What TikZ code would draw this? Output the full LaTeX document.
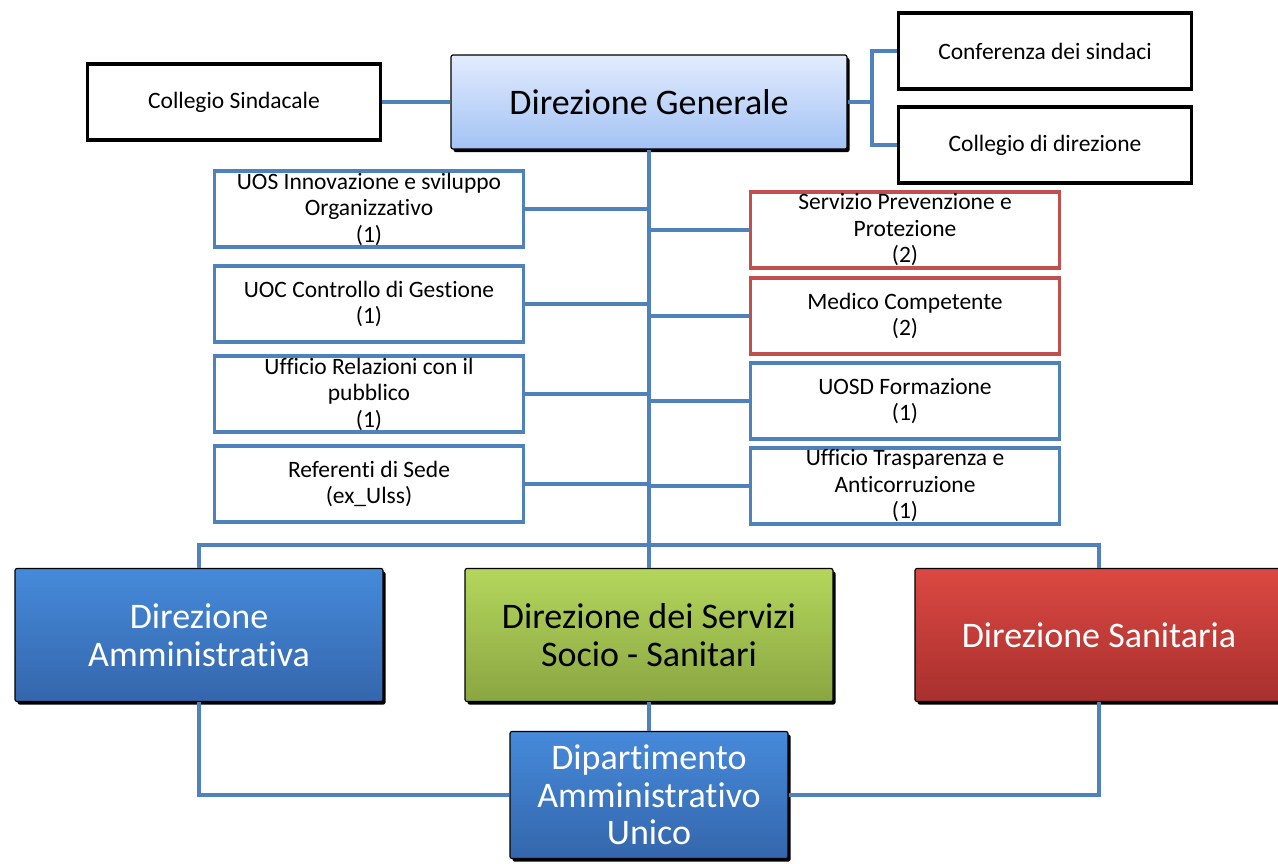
\documentclass[tikz,border=0pt]{standalone}
\usepackage{fontspec}
\setmainfont{Carlito}[Ligatures=NoCommon]
\usetikzlibrary{shadows}

\definecolor{linkblue}{RGB}{79,129,189}
\definecolor{edgered}{RGB}{192,80,77}
\definecolor{genTop}{RGB}{226,236,253}
\definecolor{genBot}{RGB}{163,194,245}
\definecolor{admTop}{RGB}{70,138,218}
\definecolor{admBot}{RGB}{52,102,172}
\definecolor{socTop}{RGB}{180,214,92}
\definecolor{socBot}{RGB}{138,166,66}
\definecolor{sanTop}{RGB}{220,72,66}
\definecolor{sanBot}{RGB}{168,48,46}

\begin{document}
\begin{tikzpicture}[x=1pt, y=-1pt,
    link/.style={draw=linkblue, line width=4pt},
    smalltext/.style={align=center, inner sep=0pt, font=\fontsize{23.5}{26.5}\selectfont},
    blackbox/.style={smalltext, draw=black, line width=3.5pt, minimum width=293pt, minimum height=76pt},
    bluebox/.style={smalltext, draw=linkblue, line width=3.5pt, minimum width=309pt, minimum height=76pt},
    redbox/.style={bluebox, draw=edgered},
    bigbox/.style={align=center, inner sep=0pt, draw=black, line width=1.2pt, rounded corners=2pt,
        general shadow={fill=black, shadow xshift=2.5pt, shadow yshift=-3pt},
        font=\fontsize{36}{37.5}\selectfont},
  ]
    \useasboundingbox (0,0) rectangle (1278,863);

    \node[bigbox, top color=genTop, bottom color=genBot, minimum width=396pt, minimum height=94pt] (dg) at (649,102) {Direzione Generale};

    \node[blackbox] (cs) at (234,102) {Collegio Sindacale};
    \node[blackbox] (cds) at (1045,51) {Conferenza dei sindaci};
    \node[blackbox] (cdd) at (1045,145) {Collegio di direzione};

    \node[bluebox] (uos) at (369,209) {UOS Innovazione e sviluppo\\Organizzativo\\(1)};
    \node[bluebox] (uoc) at (369,304) {UOC Controllo di Gestione\\(1)};
    \node[bluebox] (urp) at (369,394) {Ufficio Relazioni con il\\pubblico\\(1)};
    \node[bluebox] (ref) at (369,484) {Referenti di Sede\\(ex\_Ulss)};

    \node[redbox] (spp) at (905,230) {Servizio Prevenzione e\\Protezione\\(2)};
    \node[redbox] (med) at (905,316) {Medico Competente\\(2)};
    \node[bluebox] (form) at (905,401) {UOSD Formazione\\(1)};
    \node[bluebox] (trasp) at (905,486) {Ufficio Trasparenza e\\Anticorruzione\\(1)};

    \node[bigbox, text=white, top color=admTop, bottom color=admBot, minimum width=368pt, minimum height=133pt] (da) at (199,635) {Direzione\\Amministrativa};
    \node[bigbox, top color=socTop, bottom color=socBot, minimum width=368pt, minimum height=133pt] (dss) at (649,635) {Direzione dei Servizi\\Socio - Sanitari};
    \node[bigbox, text=white, top color=sanTop, bottom color=sanBot, minimum width=368pt, minimum height=133pt] (ds) at (1099,635) {Direzione Sanitaria};

    \node[bigbox, text=white, top color=admTop, bottom color=admBot, minimum width=278pt, minimum height=127pt] (dau) at (649,795) {Dipartimento\\Amministrativo\\Unico};

    \draw[link] (cs) -- (dg);
    \draw[link] (dg.east) -- ++(24,0) coordinate (rfork);
    \draw[link] (cds.west) -| (rfork) |- (cdd.west);

    \draw[link] (dg.south) -- (dss.north);
    \foreach \n in {uos,uoc,urp,ref}
      \draw[link] (\n.east) -- (\n.east -| dg.south);
    \foreach \n in {spp,med,form,trasp}
      \draw[link] (\n.west) -- (\n.west -| dg.south);

    \draw[link] (da.north) -- ++(0,-23) -| (ds.north);
    \draw[link] (dss.south) -- (dau.north);
    \draw[link] (da.south) |- (dau.west);
    \draw[link] (ds.south) |- (dau.east);

  \end{tikzpicture}
\end{document}
